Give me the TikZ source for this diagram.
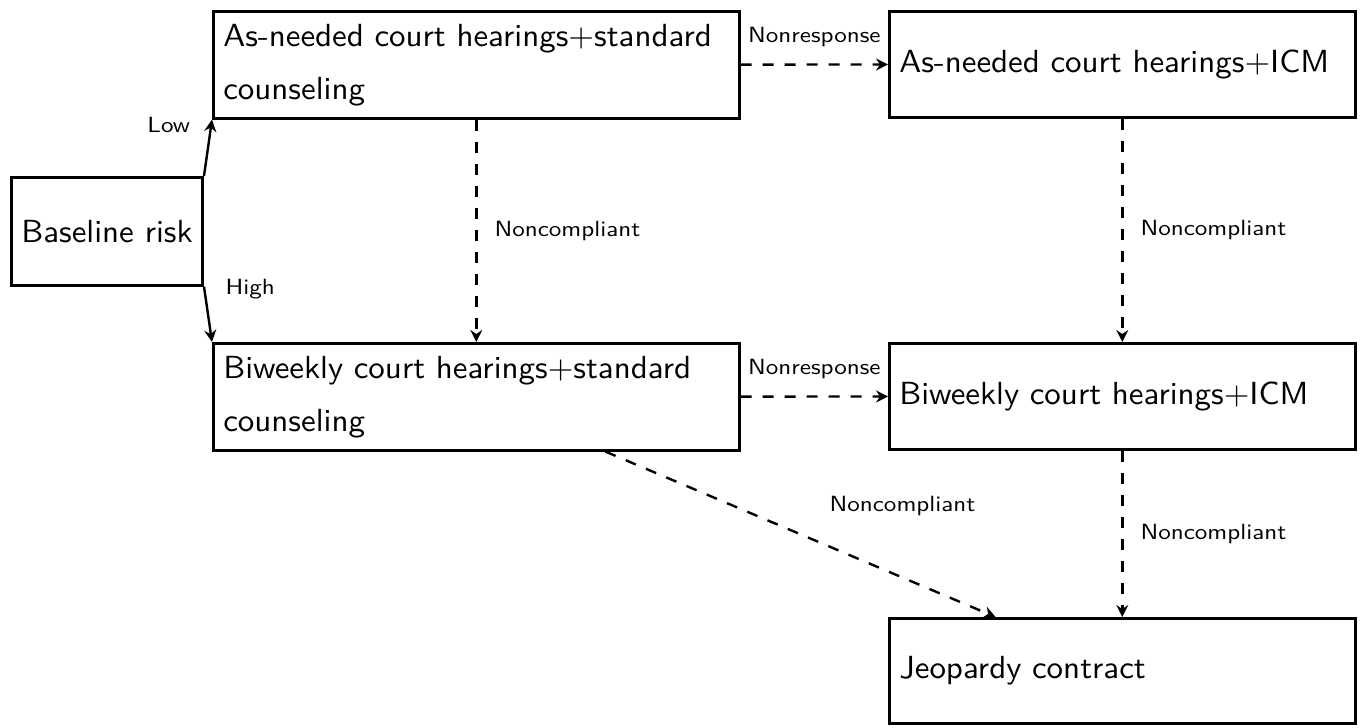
\documentclass[tikz,border=0pt]{standalone}
\usepackage{fontspec}
\usetikzlibrary{arrows.meta}
% Latin Modern Sans 10 for box texts (wide word spacing) and edge labels
\newfontfamily\stagefam{lmsans10-regular.otf}[FakeStretch=1.03, WordSpace=1.8]
\newfontfamily\basefam{lmsans10-regular.otf}[FakeStretch=1.03]
\newfontfamily\tagfam{lmsans10-regular.otf}[FakeStretch=1.14]
\newcommand\stagefont{\stagefam\fontsize{16pt}{26.5pt}\selectfont}
\newcommand\basefont{\basefam\fontsize{16pt}{26.5pt}\selectfont}
\newcommand\tagfont{\tagfam\fontsize{11pt}{13pt}\selectfont}
\tikzset{
  x=0.5pt, y=-0.5pt,
  stage/.style={draw, line width=1.3pt, anchor=north west, inner ysep=0pt,
    font=\stagefont},
  wide/.style={stage, inner xsep=5pt, text width=253pt, align=left, minimum height=53.5pt},
  narrow/.style={stage, inner xsep=5pt, text width=223pt, align=left, minimum height=53pt},
  flow/.style={line width=1.2pt, -{Stealth[length=6pt, width=6pt, inset=2pt]}},
  alt/.style={flow, dash pattern=on 5.5pt off 5.5pt},
  tag/.style={font=\tagfont, inner sep=2pt},
}
\begin{document}
\begin{tikzpicture}
\useasboundingbox (0,0) rectangle (1360,728);

% treatment stages
\node[stage, font=\basefont, inner xsep=5pt, minimum width=95pt, minimum height=54pt] (base) at (10,176) {Baseline risk};
\node[wide]   (A) at (212,10)  {As-needed court hearings+standard counseling};
\node[narrow] (B) at (888,10)  {As-needed court hearings+ICM};
\node[wide]   (C) at (212,342) {Biweekly court hearings+standard counseling};
\node[narrow] (D) at (888,342) {Biweekly court hearings+ICM};
\node[narrow, minimum height=52.5pt] (E) at (888,617) {Jeopardy contract};

% initial assignment by risk
\draw[flow] (base.north east) -- node[tag, pos=0.9, left=8pt] {Low} (A.south west);
\draw[flow] (base.south east) -- node[tag, pos=0.05, right=8pt] {High} (C.north west);

% adaptive transitions
\draw[alt] (A) -- node[tag, above=6.5pt] {Nonresponse} (B);
\draw[alt] (C) -- node[tag, above=6.5pt] {Nonresponse} (D);
\draw[alt] (A) -- node[tag, right=6.5pt] {Noncompliant} (C);
\draw[alt] (B) -- node[tag, right=6.5pt] {Noncompliant} (D);
\draw[alt] (D) -- node[tag, right=6.5pt] {Noncompliant} (E);
\draw[alt] (C) -- node[tag, xshift=51pt, yshift=14pt] {Noncompliant} (E);
\end{tikzpicture}
\end{document}
